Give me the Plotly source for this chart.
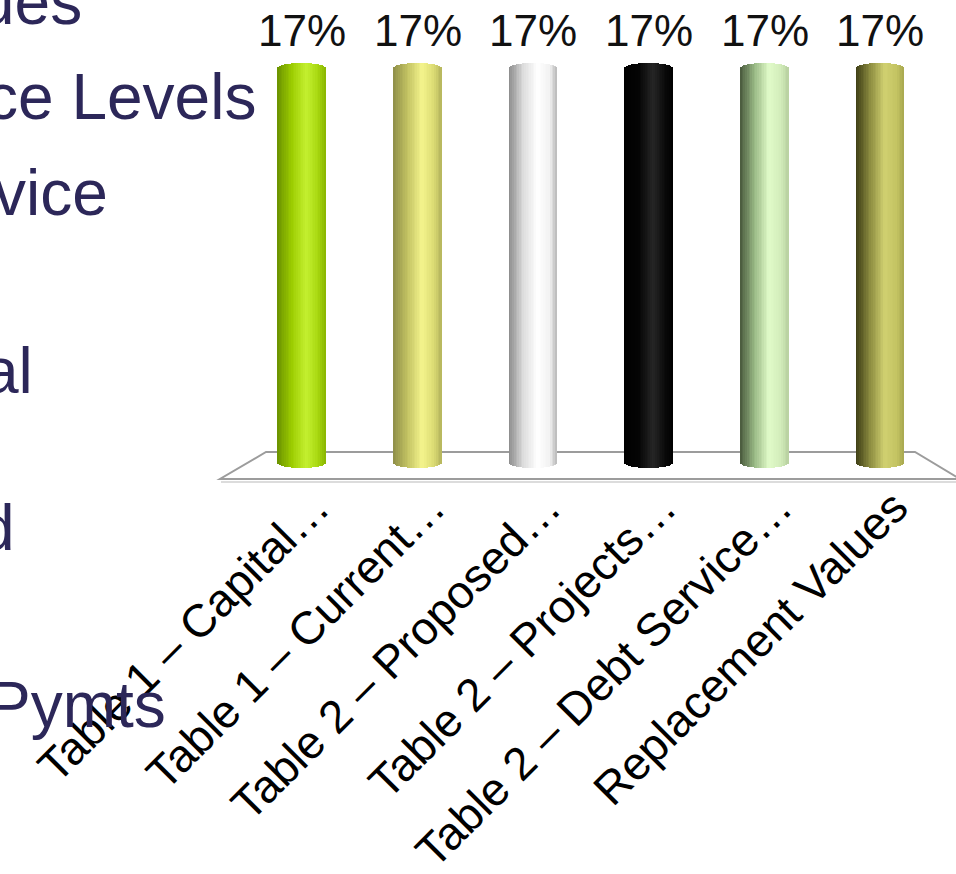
import numpy as np
import plotly.graph_objects as go

# ---- data -------------------------------------------------------------
categories = [
    "Table 1 – Capital…",
    "Table 1 – Current…",
    "Table 2 – Proposed…",
    "Table 2 – Projects…",
    "Table 2 – Debt Service…",
    "Replacement Values",
]
values = [17, 17, 17, 17, 17, 17]

# slide bullet text that runs in from the left edge
side_text = ["ues", "ce Levels", "vice", "al", "d", "Pymts"]

# ---- style ------------------------------------------------------------
W, H = 956, 874
PLOT_L, PLOT_R, PLOT_T, PLOT_B = 244, 938, 0, 470
PX_PER_UNIT = 400 / 17.0
ZERO_PX = 463
Y_MIN = -(PLOT_B - ZERO_PX) / PX_PER_UNIT
Y_MAX = (ZERO_PX - PLOT_T) / PX_PER_UNIT

FONT = "Arial, Liberation Sans, sans-serif"
NAVY = "#2c2759"

# cylinder shading: left edge, body, highlight, right body, right edge
shades = [
    ["#6a9200", "#9ccc00", "#c4f030", "#a8d810", "#88b400"],
    ["#8e8e48", "#c2c262", "#f4f48c", "#dcdc74", "#b4b45c"],
    ["#8a8a8a", "#dcdcdc", "#ffffff", "#f2f2f2", "#b8b8b8"],
    ["#000000", "#050505", "#262626", "#0a0a0a", "#000000"],
    ["#48583c", "#98b884", "#e0fac8", "#d2ecba", "#b8d0a0"],
    ["#3c3c14", "#8c8c40", "#d0d070", "#c4c462", "#a8a850"],
]
stops = [0.0, 0.3, 0.6, 0.85, 1.0]

BAR_W = 48 / 115.7          # cylinder width in category units
N_SLICES = 28
CAP = 5 / PX_PER_UNIT       # depth of the elliptical ends


def hex_rgb(h):
    h = h.lstrip("#")
    return np.array([int(h[i:i + 2], 16) for i in (0, 2, 4)], float)


def shade_at(cols, p):
    rgb = [hex_rgb(c) for c in cols]
    for k in range(len(stops) - 1):
        if stops[k] <= p <= stops[k + 1]:
            t = (p - stops[k]) / (stops[k + 1] - stops[k])
            c = rgb[k] * (1 - t) + rgb[k + 1] * t
            return "rgb(%d,%d,%d)" % tuple(np.round(c))
    return cols[-1]


fig = go.Figure()

# each cylinder is built from thin vertical slices with their own shade
sw = BAR_W / N_SLICES
for i in range(N_SLICES):
    p = (i + 0.5) / N_SLICES
    e = np.sqrt(max(0.0, 1 - (2 * p - 1) ** 2))
    tops = [v - CAP * (1 - e) for v in values]
    bottom = -CAP * e
    fig.add_trace(go.Bar(
        x=categories,
        y=[t - bottom for t in tops],
        base=[bottom] * len(values),
        width=sw * 1.08,
        offset=-BAR_W / 2 + i * sw,
        marker=dict(color=[shade_at(c, p) for c in shades], line=dict(width=0)),
        cliponaxis=False,
        showlegend=False,
        hoverinfo="skip",
    ))

# value labels above the cylinders
for c, v in zip(categories, values):
    fig.add_annotation(
        x=c, y=v, text=f"{v}%", showarrow=False, yanchor="bottom", yshift=6,
        font=dict(family=FONT, size=44, color="#111111"),
    )


def px_x(px):
    return (px - PLOT_L) / (PLOT_R - PLOT_L)


def px_y(py):
    return 1 - (py - PLOT_T) / (PLOT_B - PLOT_T)


# floor plane under the cylinders
floor = [(266, 452), (915, 452), (960, 479), (220, 479)]
path = "M " + " L ".join(f"{px_x(x):.5f},{px_y(y):.5f}" for x, y in floor) + " Z"
fig.add_shape(type="path", path=path, xref="paper", yref="paper",
              line=dict(color="#9c9c9c", width=2), fillcolor="white", layer="below")
fig.add_shape(type="line", xref="paper", yref="paper",
              x0=px_x(221), x1=px_x(960), y0=px_y(482), y1=px_y(482),
              line=dict(color="#dcdcdc", width=2), layer="below")

# bullet text fragments (right edge, baseline)
side_pos = [(84, 24), (258, 119), (110, 215), (35, 393), (17, 550), (168, 727)]
for txt, (rx, base) in zip(side_text, side_pos):
    fig.add_annotation(
        x=px_x(rx), y=px_y(base - 22), xref="paper", yref="paper",
        text=txt, showarrow=False, xanchor="right", yanchor="middle",
        font=dict(family=FONT, size=64, color=NAVY),
    )

fig.update_layout(
    width=W, height=H,
    margin=dict(l=PLOT_L, r=W - PLOT_R, t=PLOT_T, b=H - PLOT_B, autoexpand=False),
    paper_bgcolor="white", plot_bgcolor="rgba(0,0,0,0)",
    barmode="overlay", bargap=0,
    xaxis=dict(
        type="category", range=[-0.5, 5.5], showgrid=False, showline=False,
        zeroline=False, ticks="", tickangle=-45, ticklabelstandoff=0,
        ticklabelshift=14,
        tickfont=dict(family=FONT, size=46, color="#000000"), automargin=False,
    ),
    yaxis=dict(range=[Y_MIN, Y_MAX], visible=False, showgrid=False, zeroline=False),
    font=dict(family=FONT),
)

fig.write_html("out.html")
